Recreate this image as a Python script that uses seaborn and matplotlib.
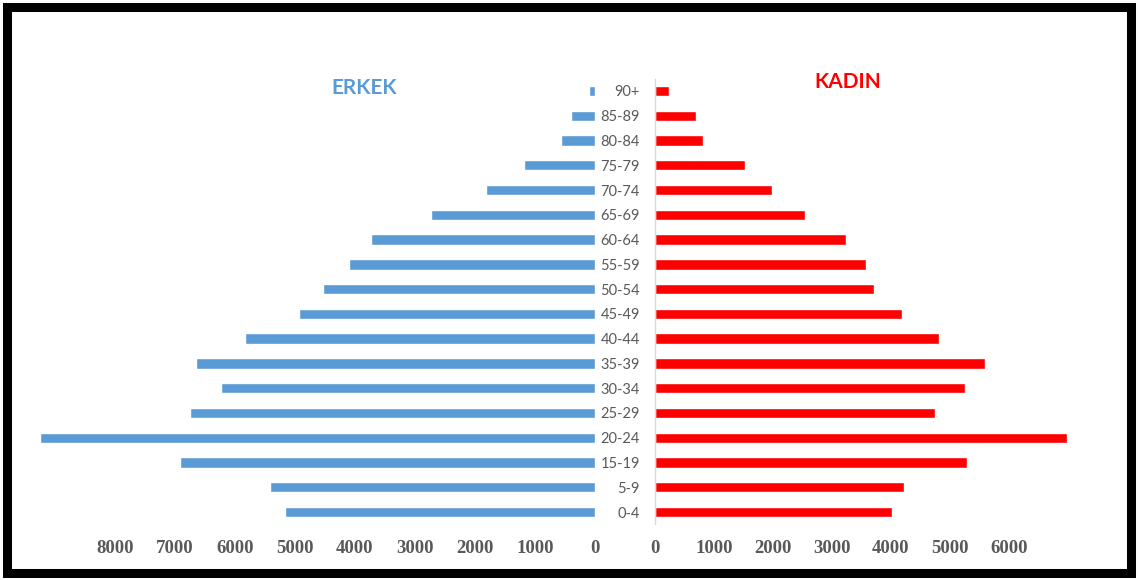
import matplotlib
matplotlib.use("Agg")
import matplotlib.pyplot as plt
import matplotlib.patches as mpatches
import seaborn as sns
import pandas as pd

# Data (top to bottom)
age_groups = ["90+", "85-89", "80-84", "75-79", "70-74", "65-69", "60-64", "55-59",
              "50-54", "45-49", "40-44", "35-39", "30-34", "25-29", "20-24", "15-19",
              "5-9", "0-4"]
male = [100, 400, 570, 1180, 1820, 2730, 3730, 4100, 4530, 4930, 5830, 6650,
        6230, 6750, 9250, 6920, 5420, 5170]
female = [230, 700, 820, 1520, 1980, 2550, 3230, 3570, 3720, 4180, 4820, 5600,
          5250, 4750, 6980, 5280, 4220, 4020]
left_ticks = [0, 1000, 2000, 3000, 4000, 5000, 6000, 7000, 8000]
right_ticks = [0, 1000, 2000, 3000, 4000, 5000, 6000]

df = pd.DataFrame({"age": age_groups, "male": male, "female": female})

sns.set_theme(style="white")
W, H = 1138, 580
fig = plt.figure(figsize=(W / 100, H / 100), dpi=100)

male_color = "#5B9BD5"
female_color = "#FF0000"
tick_color = "#595959"

n = len(age_groups)
row = (512 - 91) / (n - 1)
top_px = 91 - row / 2
bot_px = top_px + row * n

def fy(p):
    return 1 - p / H

ax_h = (bot_px - top_px) / H
ax_y = fy(bot_px)

# Left (male) axis
lx0, lx1 = 20, 595
axL = fig.add_axes([lx0 / W, ax_y, (lx1 - lx0) / W, ax_h])
sns.barplot(data=df, x="male", y="age", order=age_groups, color=male_color,
            width=0.42, ax=axL, saturation=1)
axL.set_xlim((lx1 - lx0) / 60 * 1000, 0)
axL.set_xticks(left_ticks)
axL.set_xticklabels([str(t) for t in left_ticks])
axL.set_yticks([])
axL.set_xlabel("")
axL.set_ylabel("")
for s in axL.spines.values():
    s.set_visible(False)

# Right (female) axis
rx0, rx1 = 655, 1086
axR = fig.add_axes([rx0 / W, ax_y, (rx1 - rx0) / W, ax_h])
sns.barplot(data=df, x="female", y="age", order=age_groups, color=female_color,
            width=0.42, ax=axR, saturation=1)
axR.set_xlim(0, (rx1 - rx0) / 59 * 1000)
axR.set_xticks(right_ticks)
axR.set_xticklabels([str(t) for t in right_ticks])
axR.set_xlabel("")
axR.set_ylabel("")
for k, s in axR.spines.items():
    s.set_visible(k == "left")
axR.spines["left"].set_color("#D9D9D9")
axR.spines["left"].set_linewidth(1.0)
axR.tick_params(axis="y", length=0, pad=11, labelsize=10.5, labelcolor=tick_color)
for lab in axR.get_yticklabels():
    lab.set_fontfamily("Lato")

for ax in (axL, axR):
    ax.tick_params(axis="x", length=0, pad=11, labelsize=13.5, labelcolor=tick_color)
    for lab in ax.get_xticklabels():
        lab.set_fontfamily("Liberation Serif")
        lab.set_fontweight("bold")
    ax.set_facecolor("none")

fig.text(364 / W, fy(88), "ERKEK", color=male_color, fontsize=15, fontweight="bold",
         family="Lato", ha="center", va="center")
fig.text(848 / W, fy(82), "KADIN", color=female_color, fontsize=15, fontweight="bold",
         family="Lato", ha="center", va="center")

# Black frame
inset = 7
fig.patches.append(mpatches.Rectangle((inset / W, inset / H), 1 - 2 * inset / W,
                                      1 - 2 * inset / H, transform=fig.transFigure,
                                      fill=False, edgecolor="black", linewidth=6.5))

fig.savefig("out.png", dpi=100)
